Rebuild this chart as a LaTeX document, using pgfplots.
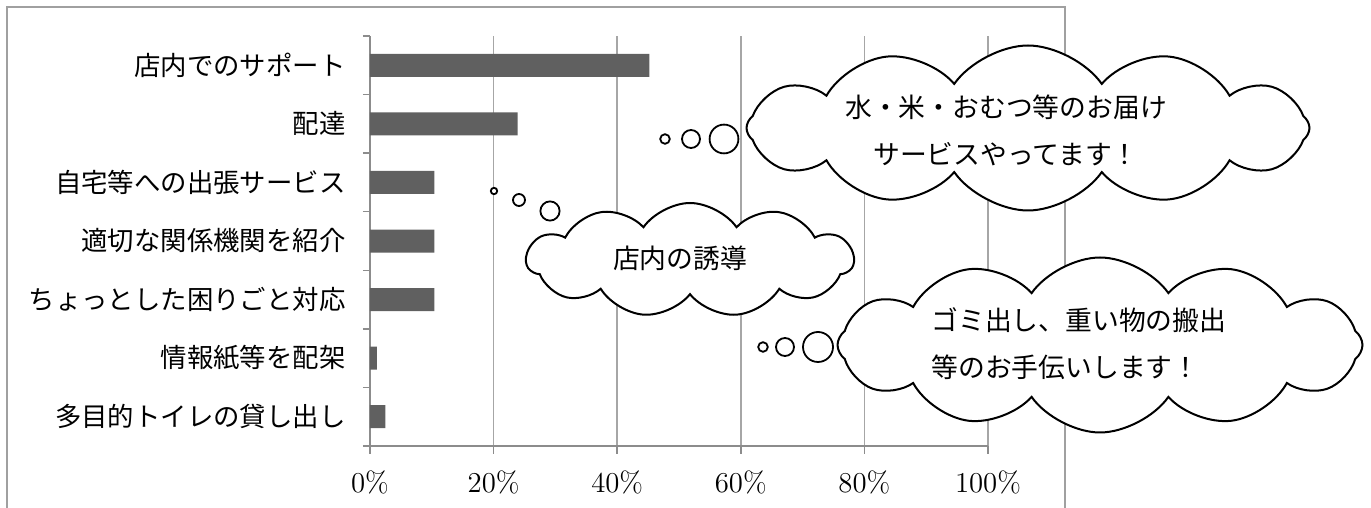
\documentclass[border=0pt]{standalone}
\usepackage{fontspec}
\usepackage{pgfplots}
\pgfplotsset{compat=1.18}
\usetikzlibrary{shapes.symbols}
\newfontfamily\jp{Noto Sans CJK JP}
\definecolor{barfill}{HTML}{606060}
\definecolor{gridgray}{HTML}{A6A6A6}
\definecolor{axisgray}{HTML}{8C8C8C}
\definecolor{framegray}{HTML}{A0A0A0}

\begin{document}
\begin{tikzpicture}
% outer frame (open at the bottom)
\begin{scope}[shift={(0pt,254pt)}, x=0.5pt, y=-0.5pt]
  \draw[framegray, line width=0.75pt] (7,520) -- (7,7) -- (1065,7) -- (1065,520);
\end{scope}

\begin{axis}[
    at={(185pt,31pt)}, anchor=south west,
    scale only axis, width=309pt, height=205pt,
    xbar, bar width=11.5pt,
    xmin=0, xmax=100, ymin=-0.5, ymax=6.5,
    axis x line*=bottom, axis y line*=left,
    axis line style={axisgray, line width=0.75pt, -},
    tick align=outside,
    major tick length=4pt, minor tick length=3.5pt,
    xtick={0,20,...,100},
    xticklabel={\pgfmathprintnumber{\tick}\%},
    xticklabel style={font=\fontsize{14.5}{16}\selectfont, inner sep=0pt, yshift=-8pt},
    major x tick style={axisgray, line width=0.75pt},
    xmajorgrids, major x grid style={gridgray, line width=0.75pt},
    ytick={0,...,6},
    yticklabels={多目的トイレの貸し出し, 情報紙等を配架, ちょっとした困りごと対応,
      適切な関係機関を紹介, 自宅等への出張サービス, 配達, 店内でのサポート},
    yticklabel style={font=\jp\fontsize{13.2}{15}\selectfont, anchor=east, inner sep=0pt, xshift=-8pt},
    major y tick style={draw=none},
    minor ytick={-0.5,0.5,...,6.5},
    minor y tick style={axisgray, line width=0.75pt},
  ]
  \addplot[fill=barfill, draw=none]
    coordinates {(2.5,0) (1.1,1) (10.4,2) (10.4,3) (10.4,4) (23.9,5) (45.2,6)};
\end{axis}

% thought clouds
\begin{scope}[shift={(0pt,254pt)}, x=0.5pt, y=-0.5pt,
    cl/.style={cloud, draw=black, fill=white, line width=1pt, inner sep=0pt, cloud puff arc=110},
    bub/.style={draw=black, fill=white, line width=0.9pt},
    tx/.style={font=\jp\fontsize{13.4}{23.5}\selectfont, inner sep=0pt}]
  \node[cl, cloud puffs=12, aspect=3.4, minimum width=281.5pt, minimum height=82.5pt] at (1028,128) {};
  \node[tx, align=center] at (1006,130) {水・米・おむつ等のお届け\\サービスやってます！};
  \draw[bub] (665,139) circle[radius=2.4pt];
  \draw[bub] (691,139) circle[radius=4.5pt];
  \draw[bub] (724,139) circle[radius=7.2pt];

  \node[cl, cloud puffs=11, aspect=2.87, minimum width=163.5pt, minimum height=57pt] at (690,260) {};
  \node[tx] at (680,258) {店内の誘導};
  \draw[bub] (494,191) circle[radius=1.6pt];
  \draw[bub] (519,200) circle[radius=3pt];
  \draw[bub] (550,211) circle[radius=4.8pt];

  \node[cl, cloud puffs=12, aspect=3.0, minimum width=262.5pt, minimum height=87.5pt] at (1100,345) {};
  \node[tx, align=left, anchor=west] at (931,343.5) {ゴミ出し、重い物の搬出\\等のお手伝いします！};
  \draw[bub] (763,347) circle[radius=2.4pt];
  \draw[bub] (785,347) circle[radius=4.5pt];
  \draw[bub] (818,347) circle[radius=7.5pt];
\end{scope}

\pgfresetboundingbox
\useasboundingbox (0,0) rectangle (685.5pt,254pt);
\end{tikzpicture}
\end{document}
